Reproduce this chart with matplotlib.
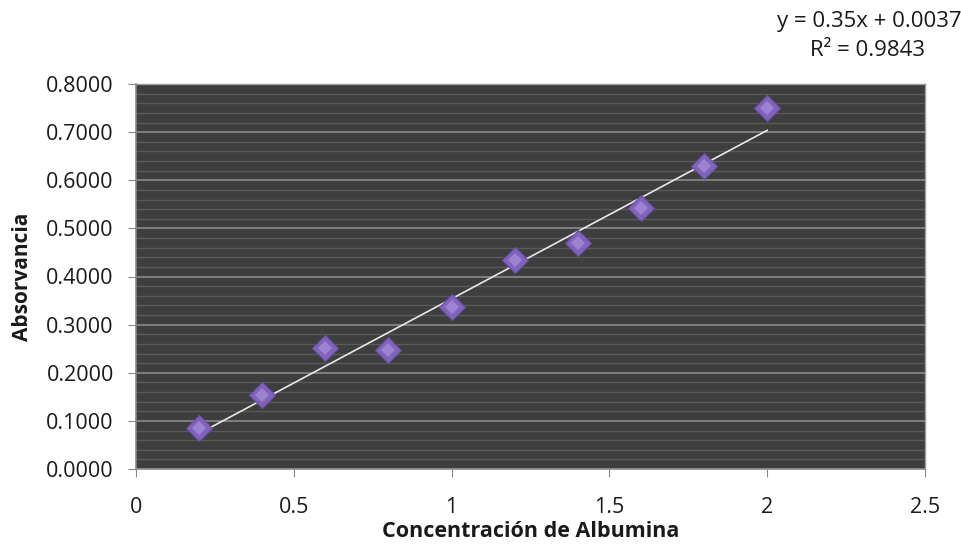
import numpy as np
import matplotlib
matplotlib.use("Agg")
import matplotlib.pyplot as plt
from matplotlib.ticker import MultipleLocator, FormatStrFormatter, FuncFormatter

# Albumin calibration data
concentracion = [0.2, 0.4, 0.6, 0.8, 1.0, 1.2, 1.4, 1.6, 1.8, 2.0]
absorbancia = [0.085, 0.154, 0.251, 0.247, 0.337, 0.434, 0.470, 0.542, 0.630, 0.750]

# Linear trend line parameters
pendiente = 0.35
intercepto = 0.0037
r2 = 0.9843

plt.rcParams["font.family"] = ["Open Sans", "DejaVu Sans"]

fig = plt.figure(figsize=(9.61, 5.5), dpi=100)
ax = fig.add_axes([136 / 961, 1 - 469 / 550, (925 - 136) / 961, (469 - 84) / 550])

ax.set_facecolor("#3e3e3e")
ax.set_xlim(0, 2.5)
ax.set_ylim(0, 0.8)
ax.xaxis.set_major_locator(MultipleLocator(0.5))
ax.yaxis.set_major_locator(MultipleLocator(0.1))
ax.yaxis.set_minor_locator(MultipleLocator(0.02))
ax.yaxis.set_major_formatter(FormatStrFormatter("%.4f"))
ax.xaxis.set_major_formatter(FuncFormatter(lambda v, p: "%g" % v))

ax.grid(which="minor", axis="y", color="#595959", lw=1.0)
ax.grid(which="major", axis="y", color="#8a8a8a", lw=1.2)
ax.set_axisbelow(True)

for side in ["top", "right"]:
    ax.spines[side].set_color("#9a9a9a")
    ax.spines[side].set_linewidth(1.0)
for side in ["left", "bottom"]:
    ax.spines[side].set_color("#888888")
    ax.spines[side].set_linewidth(1.2)

ax.tick_params(axis="both", which="major", length=6, color="#888888",
               labelsize=15.5, labelcolor="#1a1a1a")
ax.tick_params(axis="y", pad=10)
ax.tick_params(axis="y", which="minor", length=0)
ax.tick_params(axis="x", pad=14)

# Trend line from the fitted equation
xs = np.array([min(concentracion), max(concentracion)])
ax.plot(xs, pendiente * xs + intercepto, color="#e8e8e8", lw=1.2, zorder=3)

# Diamond markers with a lighter facet on top
ax.plot(concentracion, absorbancia, linestyle="none", marker="D",
        markersize=13, markerfacecolor="#8063bd", markeredgecolor="#6a4fa3",
        markeredgewidth=0.8, zorder=4)
ax.plot(concentracion, absorbancia, linestyle="none", marker="D",
        markersize=7, markerfacecolor="#a48bd6", markeredgewidth=0,
        alpha=0.8, zorder=5)

ax.set_xlabel("Concentración de Albumina", fontsize=15.5, fontweight="bold",
              color="#1a1a1a")
ax.xaxis.set_label_coords(0.5, -(521 - 469) / 385)
ax.set_ylabel("Absorvancia", fontsize=15, fontweight="bold",
              color="#1a1a1a")
ax.yaxis.set_label_coords(-103 / 789, 0.5)

fig.text(869 / 961, 1 - 21 / 550, "y = %.2fx + %.4f" % (pendiente, intercepto),
         ha="center", va="center", fontsize=16, color="#1a1a1a")
fig.text(867 / 961, 1 - 51 / 550, "R² = %.4f" % r2,
         ha="center", va="center", fontsize=16, color="#1a1a1a")

fig.savefig("out.png", dpi=100, facecolor="white")
